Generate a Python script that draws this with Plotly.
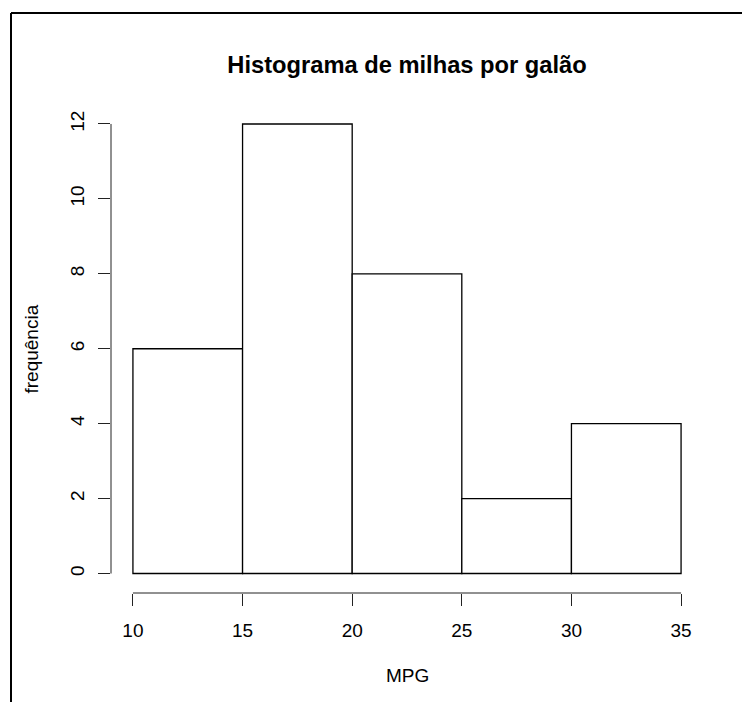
import plotly.graph_objects as go

# Histogram bins (MPG) and counts
bin_edges = [10, 15, 20, 25, 30, 35]
counts = [6, 12, 8, 2, 4]
x_ticks = [10, 15, 20, 25, 30, 35]
y_ticks = [0, 2, 4, 6, 8, 10, 12]

title_text = "Histograma de milhas por galão"
x_title = "MPG"
y_title = "frequência"

W, H = 742, 702
ML, MR, MT, MB = 111, 39, 106, 109
PW, PH = W - ML - MR, H - MT - MB

FONT = "Liberation Sans, Arial, sans-serif"

centers = [(a + b) / 2 for a, b in zip(bin_edges[:-1], bin_edges[1:])]
widths = [b - a for a, b in zip(bin_edges[:-1], bin_edges[1:])]

fig = go.Figure(
    go.Bar(
        x=centers,
        y=counts,
        width=widths,
        marker=dict(color="white", line=dict(color="black", width=1.3)),
        hoverinfo="skip",
    )
)

# R-style range padding (4% each side)
xpad = (bin_edges[-1] - bin_edges[0]) * 0.04
ypad = max(counts) * 0.04

fig.update_layout(
    width=W,
    height=H,
    margin=dict(l=ML, r=MR, t=MT, b=MB),
    paper_bgcolor="white",
    plot_bgcolor="white",
    showlegend=False,
    font=dict(family=FONT, size=19, color="black"),
    title=dict(
        text=f"<b>{title_text}</b>",
        x=0.5,
        xref="paper",
        xanchor="center",
        y=1 - 65 / H,
        yanchor="middle",
        font=dict(family=FONT, size=23.7, color="black"),
    ),
    xaxis=dict(
        range=[bin_edges[0] - xpad, bin_edges[-1] + xpad],
        tickvals=x_ticks,
        ticktext=[str(v) for v in x_ticks],
        ticks="outside",
        ticklen=12,
        tickwidth=1,
        tickcolor="#222",
        showline=False,
        showgrid=False,
        zeroline=False,
        ticklabelstandoff=8,
    ),
    yaxis=dict(
        range=[-0.52, max(counts) + ypad],
        tickvals=y_ticks,
        ticktext=[str(v) for v in y_ticks],
        tickangle=-90,
        ticks="outside",
        ticklen=12,
        tickwidth=1,
        tickcolor="#222",
        showline=False,
        showgrid=False,
        zeroline=False,
        ticklabelstandoff=6,
    ),
)

# Axis lines spanning only the tick range
fig.add_shape(type="line", xref="x", yref="paper", x0=x_ticks[0], x1=x_ticks[-1],
              y0=0, y1=0, line=dict(color="#222", width=1))
fig.add_shape(type="line", xref="paper", yref="y", x0=0, x1=0,
              y0=y_ticks[0], y1=y_ticks[-1], line=dict(color="#222", width=1))

# Outer frame (left and top edges)
fx = (11 - ML) / PW
fy = 1 + (MT - 13) / PH
fig.add_shape(type="line", xref="paper", yref="paper", x0=fx, x1=(W - ML) / PW + 0.01,
              y0=fy, y1=fy, line=dict(color="black", width=2))
fig.add_shape(type="line", xref="paper", yref="paper", x0=fx, x1=fx,
              y0=fy, y1=-(MB + 5) / PH, line=dict(color="black", width=2))

# Axis titles
fig.add_annotation(text=x_title, xref="paper", yref="paper", x=0.5, y=-(675 - (H - MB)) / PH,
                   xanchor="center", yanchor="middle", showarrow=False,
                   font=dict(family=FONT, size=19, color="black"))
fig.add_annotation(text=y_title, xref="paper", yref="paper", x=-(ML - 31) / PW, y=0.5,
                   xanchor="center", yanchor="middle", textangle=-90, showarrow=False,
                   font=dict(family=FONT, size=19, color="black"))

fig.write_html("out.html")
